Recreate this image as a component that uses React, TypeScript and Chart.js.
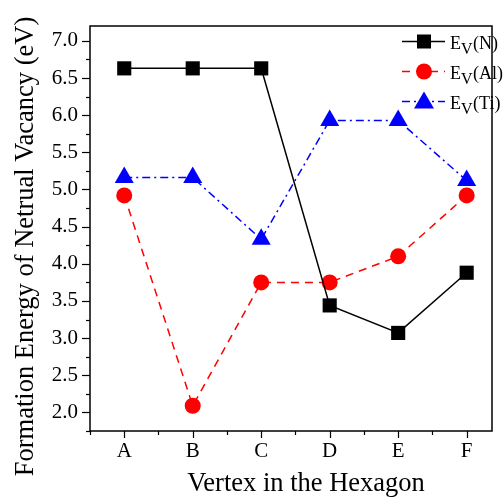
import React, { useEffect, useRef } from "react";
import { Chart, registerables } from "chart.js";

Chart.register(...registerables);

const categories = ["A", "B", "C", "D", "E", "F"];
const valuesN = [6.63, 6.63, 6.63, 3.44, 3.07, 3.88];
const valuesAl = [4.92, 2.09, 3.75, 3.75, 4.1, 4.92];
const valuesTi = [5.16, 5.16, 4.33, 5.93, 5.93, 5.12];
const seriesLabels = ["N", "Al", "Ti"];
const yTitle = "Formation Energy of Netrual Vacancy (eV)";
const xTitle = "Vertex in the Hexagon";

const FONT = "'Liberation Serif', 'Times New Roman', serif";

const toPoints = (vals: number[]) => vals.map((y, i) => ({ x: i, y }));

export default function App() {
  const ref = useRef<HTMLCanvasElement | null>(null);
  useEffect(() => {
    document.body.style.margin = "0";
    const canvas = ref.current!;
    const decor = {
      id: "decor",
      afterDraw(chart: any) {
        const ctx = chart.ctx as CanvasRenderingContext2D;
        const { left, right, top, bottom } = chart.chartArea;
        const xs = chart.scales.x;
        const ys = chart.scales.y;
        ctx.save();
        ctx.strokeStyle = "#000";
        ctx.lineWidth = 1.5;
        ctx.strokeRect(left, top, right - left, bottom - top);
        ctx.lineWidth = 1.2;
        // y ticks
        for (let v = 1.75; v <= 7.2 + 1e-9; v += 0.25) {
          const yy = Math.round(ys.getPixelForValue(v)) + 0.5;
          const major = Math.abs(v * 2 - Math.round(v * 2)) < 1e-6;
          ctx.beginPath();
          ctx.moveTo(left, yy);
          ctx.lineTo(left - (major ? 8 : 4), yy);
          ctx.stroke();
        }
        // x ticks
        for (let v = -0.5; v <= xs.max + 1e-9; v += 0.5) {
          const xx = Math.round(xs.getPixelForValue(v)) + 0.5;
          const major = Math.abs(v - Math.round(v)) < 1e-6;
          ctx.beginPath();
          ctx.moveTo(xx, bottom);
          ctx.lineTo(xx, bottom + (major ? 7 : 4));
          ctx.stroke();
        }
        // titles
        ctx.fillStyle = "#000";
        ctx.font = `26.5px ${FONT}`;
        ctx.textAlign = "center";
        ctx.textBaseline = "alphabetic";
        ctx.fillText(xTitle, 306, 491);
        ctx.save();
        ctx.translate(33, 246.5);
        ctx.rotate(-Math.PI / 2);
        ctx.fillText(yTitle, 0, 0);
        ctx.restore();
        // legend
        const rows = [
          { color: "#000", dash: [] as number[], shape: "rect", y: 41.5 },
          { color: "#ff0000", dash: [8, 6], shape: "circle", y: 71.5 },
          { color: "#0000ff", dash: [8, 4, 2, 4], shape: "tri", y: 101.5 },
        ];
        rows.forEach((r, i) => {
          ctx.strokeStyle = r.color;
          ctx.fillStyle = r.color;
          ctx.lineWidth = 1.5;
          ctx.setLineDash(r.dash);
          ctx.beginPath();
          ctx.moveTo(402, r.y);
          ctx.lineTo(445, r.y);
          ctx.stroke();
          ctx.setLineDash([]);
          const cx = 424;
          ctx.beginPath();
          if (r.shape === "rect") {
            ctx.rect(cx - 7, r.y - 7, 14, 14);
          } else if (r.shape === "circle") {
            ctx.arc(cx, r.y, 8, 0, Math.PI * 2);
          } else {
            ctx.moveTo(cx, r.y - 10);
            ctx.lineTo(cx + 10, r.y + 7);
            ctx.lineTo(cx - 10, r.y + 7);
            ctx.closePath();
          }
          ctx.fill();
          ctx.fillStyle = "#000";
          ctx.textAlign = "left";
          ctx.textBaseline = "alphabetic";
          ctx.font = `18px ${FONT}`;
          let tx = 450;
          ctx.fillText("E", tx, r.y + 7);
          tx += ctx.measureText("E").width;
          ctx.font = `16px ${FONT}`;
          ctx.fillText("V", tx, r.y + 12);
          tx += ctx.measureText("V").width + 0.5;
          ctx.font = `18px ${FONT}`;
          ctx.fillText(`(${seriesLabels[i]})`, tx, r.y + 7);
        });
        ctx.restore();
      },
    };
    const chart = new Chart(canvas, {
      type: "line",
      data: {
        datasets: [
          {
            label: "N",
            data: toPoints(valuesN),
            borderColor: "#000",
            backgroundColor: "#000",
            borderWidth: 1.5,
            pointStyle: "rect",
            pointRadius: 10,
            pointBorderWidth: 0,
          },
          {
            label: "Al",
            data: toPoints(valuesAl),
            borderColor: "#ff0000",
            backgroundColor: "#ff0000",
            borderWidth: 1.5,
            borderDash: [8, 6],
            pointStyle: "circle",
            pointRadius: 8,
            pointBorderWidth: 0,
          },
          {
            label: "Ti",
            data: toPoints(valuesTi),
            borderColor: "#0000ff",
            backgroundColor: "#0000ff",
            borderWidth: 1.5,
            borderDash: [8, 4, 2, 4],
            pointStyle: "triangle",
            pointRadius: 11,
            pointBorderWidth: 0,
          },
        ],
      },
      options: {
        responsive: false,
        animation: false,
        devicePixelRatio: 1,
        layout: { padding: { top: 26, right: 6, left: 0, bottom: 0 } },
        plugins: { legend: { display: false }, tooltip: { enabled: false } },
        scales: {
          x: {
            type: "linear",
            min: -0.5,
            max: 5.37,
            grid: { display: false, drawTicks: false },
            border: { display: false },
            afterBuildTicks: (s: any) => {
              s.ticks = categories.map((_, i) => ({ value: i }));
            },
            afterFit: (s: any) => {
              s.height = 70;
            },
            ticks: {
              padding: 8,
              color: "#000",
              font: { family: FONT, size: 21 },
              maxRotation: 0,
              callback: (v: any) => categories[Math.round(Number(v))] ?? "",
            },
          },
          y: {
            type: "linear",
            min: 1.75,
            max: 7.2,
            grid: { display: false, drawTicks: false },
            border: { display: false },
            afterBuildTicks: (s: any) => {
              const t = [];
              for (let v = 2; v <= 7.0001; v += 0.5) t.push({ value: v });
              s.ticks = t;
            },
            afterFit: (s: any) => {
              s.width = 90;
            },
            ticks: {
              padding: 12,
              color: "#000",
              font: { family: FONT, size: 21 },
              callback: (v: any) => Number(v).toFixed(1),
            },
          },
        },
      },
      plugins: [decor],
    } as any);
    return () => chart.destroy();
  }, []);
  return (
    <div style={{ position: "fixed", left: 0, top: 0, width: 503, height: 501 }}>
      <canvas ref={ref} width={503} height={501} style={{ width: 503, height: 501 }} />
    </div>
  );
}
